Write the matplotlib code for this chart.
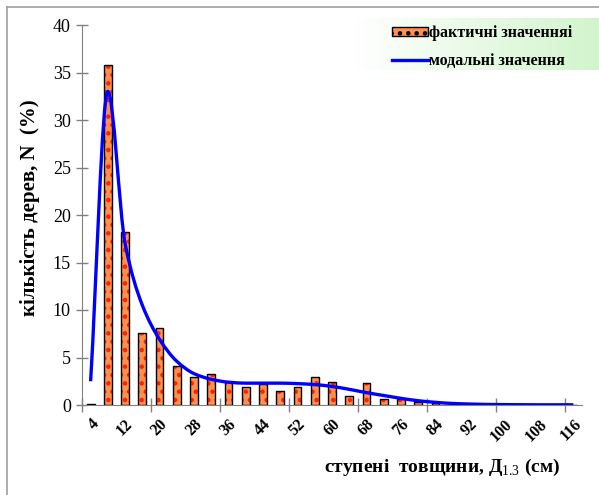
import numpy as np
import matplotlib.pyplot as plt
from matplotlib.path import Path
from matplotlib.patches import PathPatch, Patch
from matplotlib.lines import Line2D

plt.rcParams['font.family'] = ['Liberation Serif', 'DejaVu Serif']
plt.rcParams['mathtext.fontset'] = 'custom'
plt.rcParams['mathtext.rm'] = 'Liberation Serif'
plt.rcParams['hatch.linewidth'] = 2.0

# diameter classes (cm)
classes = [4, 8, 12, 16, 20, 24, 28, 32, 36, 40, 44, 48, 52, 56, 60,
           64, 68, 72, 76, 80, 84, 88, 92, 96, 100, 104, 108, 112, 116]
# actual values, %
actual = [0.1, 35.8, 18.2, 7.6, 8.1, 4.1, 3.0, 3.3, 2.4, 1.9, 2.2, 1.5, 1.9, 2.9, 2.4,
          1.0, 2.3, 0.6, 0.6, 0.35, 0.2, 0.05, 0.15, 0, 0, 0, 0, 0, 0]
# modal (fitted) values, %
modal = [2.5, 33.0, 17.0, 10.5, 6.9, 4.6, 3.3, 2.7, 2.4, 2.3, 2.3, 2.3, 2.25, 2.15, 1.95,
         1.65, 1.3, 1.0, 0.7, 0.45, 0.28, 0.16, 0.1, 0.06, 0.04, 0.03, 0.02, 0.02, 0.02]

fig = plt.figure(figsize=(5.99, 4.95), dpi=100)

# frame around the picture
fig.add_artist(Line2D([7/599, 7/599], [0, 1 - 7/495], color='#a0a0a0', lw=1.2))
fig.add_artist(Line2D([7/599, 1], [1 - 7/495, 1 - 7/495], color='#a0a0a0', lw=1.2))

# green gradient behind the legend
gax = fig.add_axes([355/599, 1 - 70/495, 244/599, 52/495])
grad = np.linspace(0, 1, 256)[:, None]
green = np.array([0.82, 0.96, 0.80])
gcol = ((1 - grad) * np.array([1.0, 1.0, 1.0]) + grad * green)[None, :, :]
gax.imshow(gcol, aspect='auto', extent=[0, 1, 0, 1])
gax.axis('off')

ax = fig.add_axes([82/599, 90/495, 500/599, 380/495])
ax.set_facecolor('none')
x = np.arange(len(classes))

# bars: patterned fill + black outline
ax.bar(x, actual, width=0.45, color='#ff9050', edgecolor='#ff2000', hatch='..',
       linewidth=0, zorder=2)
ax.bar(x, actual, width=0.45, fill=False, edgecolor='black', linewidth=1.0, zorder=3)

# smoothed curve: monotone cubic (bezier) through the modal values
y = np.array(modal, dtype=float)
d = np.diff(y)
m = np.zeros_like(y)
for i in range(1, len(y) - 1):
    if d[i - 1] * d[i] > 0:
        m[i] = 2 * d[i - 1] * d[i] / (d[i - 1] + d[i])
m[0] = d[0]
m[-1] = d[-1]
verts = [(x[0], y[0])]
codes = [Path.MOVETO]
for i in range(len(y) - 1):
    verts += [(x[i] + 1/3, y[i] + m[i] / 3),
              (x[i + 1] - 1/3, y[i + 1] - m[i + 1] / 3),
              (x[i + 1], y[i + 1])]
    codes += [Path.CURVE4] * 3
ax.add_patch(PathPatch(Path(verts, codes), facecolor='none', edgecolor='#0000ff',
                       lw=2.4, zorder=4))

ax.set_xlim(-0.5, len(classes) - 0.5)
ax.set_ylim(0, 40)
ax.set_yticks(np.arange(0, 41, 5))
ax.tick_params(axis='y', direction='inout', length=8, width=1, color='#808080',
               labelsize=13, pad=4)
ax.set_xticks(np.arange(-0.5, len(classes), 4))
ax.set_xticklabels([])
ax.set_xticks(x[::2], minor=True)
ax.set_xticklabels([str(c) for c in classes[::2]], minor=True, rotation=45,
                   ha='right', va='top', rotation_mode='anchor',
                   fontweight='bold', fontsize=11.5)
ax.tick_params(axis='x', which='major', direction='inout', length=10, width=1,
               color='#808080')
ax.tick_params(axis='x', which='minor', length=0, pad=8)
for s in ['top', 'right']:
    ax.spines[s].set_visible(False)
for s in ['left', 'bottom']:
    ax.spines[s].set_color('#808080')

fig.text(30/599, 1 - 208/495, 'кількість дерев, N  (%)', rotation=90,
         ha='center', va='center', fontsize=15, fontweight='bold')
fig.text(442/599, 1 - 467/495, r'ступені  товщини, Д$_{1.3}$ (см)',
         ha='center', va='center', fontsize=14, fontweight='bold')

handles = [Patch(facecolor='#ff9050', edgecolor='black', hatch='..', linewidth=1),
           Line2D([], [], color='#0000ff', lw=2.4)]
leg = fig.legend(handles, ['фактичні значенняі', 'модальні значення'],
                 loc='upper left', bbox_to_anchor=(386/599, 1 - 19/495),
                 frameon=False, prop={'weight': 'bold', 'size': 11.5},
                 handlelength=2.2, handleheight=0.5, handletextpad=0.1,
                 labelspacing=0.75, borderaxespad=0)

fig.savefig('out.png', dpi=100)
